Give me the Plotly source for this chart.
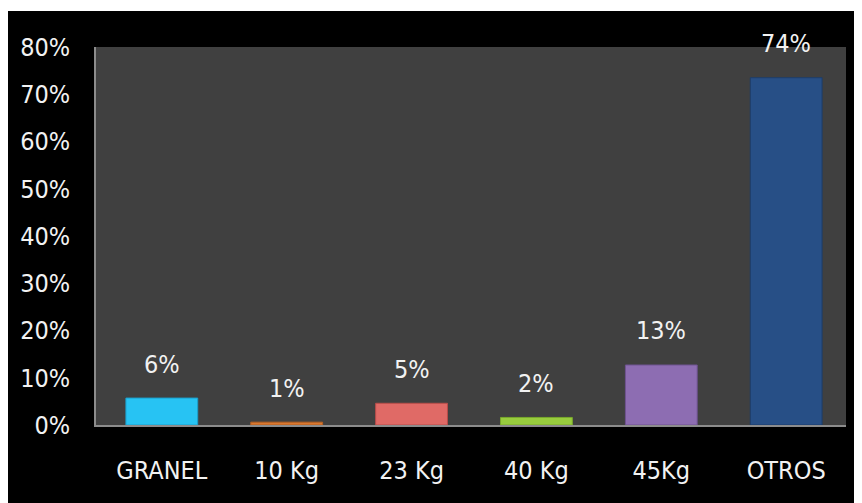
import plotly.graph_objects as go

categories = ["GRANEL", "10 Kg", "23 Kg", "40 Kg", "45Kg", "OTROS"]
values = [0.057, 0.006, 0.046, 0.016, 0.127, 0.735]
colors = ["#27c3f3", "#d9772f", "#e06a66", "#98cc3e", "#8d6db2", "#274f86"]
line_colors = ["#1a9fcc", "#b35e20", "#b94d4a", "#79a82c", "#6e5290", "#1d3d6a"]
y_ticks = [0, 0.1, 0.2, 0.3, 0.4, 0.5, 0.6, 0.7, 0.8]

FONT = "DejaVu Sans Condensed, sans-serif"

W, H = 862, 503
L, R, T, B = 86, 24, 39, 86
pw = W - L - R
ph = H - T - B

fig = go.Figure()
fig.add_trace(go.Bar(
    x=list(range(len(categories))),
    y=values,
    width=0.575,
    marker=dict(color=colors, line=dict(color=line_colors, width=1)),
    hoverinfo="skip",
))

for i, v in enumerate(values):
    fig.add_annotation(
        x=i, y=v, text=f"{round(v * 100):d}%",
        showarrow=False, yanchor="middle", yshift=34,
        font=dict(family=FONT, size=25, color="#f2f2f2"),
    )

# thin white strip at top edge of the image
fig.add_shape(type="rect", xref="paper", yref="paper",
              x0=-L / pw - 0.05, x1=1 + R / pw + 0.05,
              y0=1 + (T - 3) / ph, y1=1 + T / ph + 0.05,
              fillcolor="white", line=dict(width=0), layer="above")

fig.update_layout(
    width=W, height=H,
    margin=dict(l=L, r=R, t=T, b=B, pad=0),
    paper_bgcolor="black",
    plot_bgcolor="#404040",
    showlegend=False,
    font=dict(family=FONT, size=25, color="#f2f2f2"),
)
fig.update_xaxes(
    tickmode="array", tickvals=list(range(len(categories))), ticktext=categories,
    range=[-0.527, 5.479],
    showline=True, linecolor="#8c8c8c", linewidth=1.5, mirror=False,
    showgrid=False, zeroline=False, ticks="", ticklabelstandoff=22,
    tickfont=dict(family=FONT, size=25, color="#f2f2f2"),
)
fig.update_yaxes(
    tickmode="array", tickvals=y_ticks, tickformat=".0%",
    range=[0, 0.8],
    showline=True, linecolor="#8c8c8c", linewidth=1.5,
    showgrid=False, zeroline=False, ticks="", ticklabelstandoff=19,
    tickfont=dict(family=FONT, size=25, color="#f2f2f2"),
)

fig.write_html("out.html")
